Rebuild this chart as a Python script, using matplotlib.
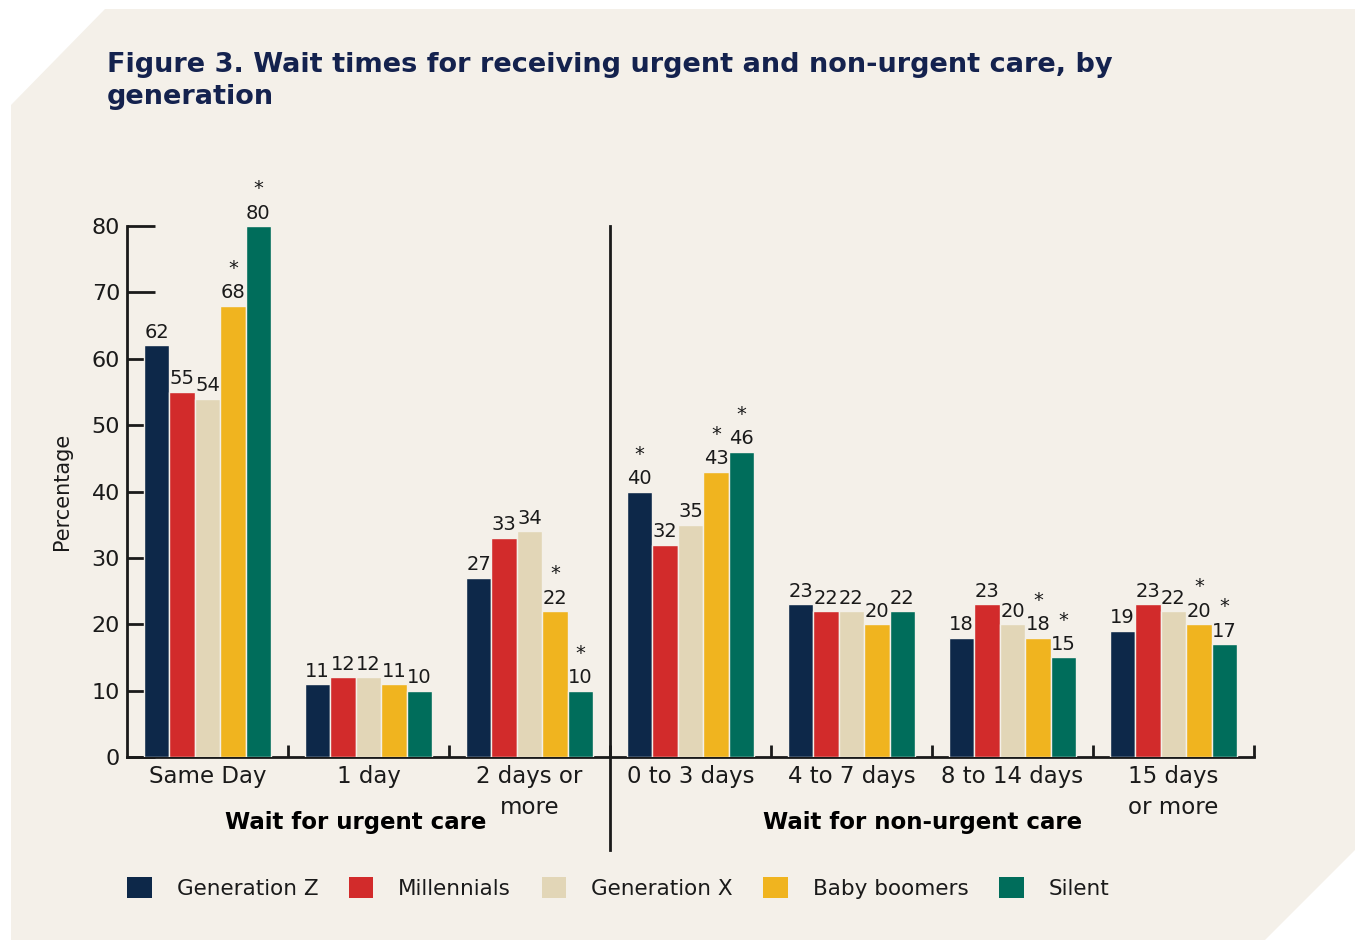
import matplotlib
matplotlib.use("Agg")
import matplotlib.pyplot as plt
from matplotlib.patches import Polygon, Patch
import numpy as np

# data
categories = ["Same Day", "1 day", "2 days or\nmore", "0 to 3 days",
              "4 to 7 days", "8 to 14 days", "15 days\nor more"]
series = ["Generation Z", "Millennials", "Generation X", "Baby boomers", "Silent"]
gen_z = [62, 11, 27, 40, 23, 18, 19]
millennials = [55, 12, 33, 32, 22, 23, 23]
gen_x = [54, 12, 34, 35, 22, 20, 22]
boomers = [68, 11, 22, 43, 20, 18, 20]
silent = [80, 10, 10, 46, 22, 15, 17]
# significance markers (*)
star_gen_z = [0, 0, 0, 1, 0, 0, 0]
star_millennials = [0, 0, 0, 0, 0, 0, 0]
star_gen_x = [0, 0, 0, 0, 0, 0, 0]
star_boomers = [1, 0, 1, 1, 0, 1, 1]
star_silent = [1, 0, 1, 1, 0, 1, 1]
yticks = [0, 10, 20, 30, 40, 50, 60, 70, 80]

values = [gen_z, millennials, gen_x, boomers, silent]
stars = [star_gen_z, star_millennials, star_gen_x, star_boomers, star_silent]
colors = ["#0d2849", "#d22b2b", "#e2d6b7", "#f0b41f", "#006d5b"]
bg = "#f4f0e9"
navy = "#14224e"
txt = "#1a1a1a"

plt.rcParams['font.family'] = ['DejaVu Sans']

fig = plt.figure(figsize=(13.59, 9.40), dpi=100, facecolor="white")
W, H = 1359.0, 940.0
pts = [(11, 105), (105, 9), (1355, 9), (1355, 850), (1265, 940), (11, 940)]
fig.patches.append(Polygon([(x / W, 1 - y / H) for x, y in pts], closed=True,
                           transform=fig.transFigure, facecolor=bg, edgecolor="none", zorder=-5))

fig.text(107 / W, 1 - 81 / H, "Figure 3. Wait times for receiving urgent and non-urgent care, by\ngeneration",
         fontsize=19.5, fontweight="bold", color=navy, ha="left", va="center", linespacing=1.3)

ax = fig.add_axes([127 / W, 1 - 757 / H, (1254 - 127) / W, (757 - 226) / H])
ax.set_facecolor("none")
ax.set_zorder(2)

x = np.arange(len(categories))
bw = 0.158
for i, (vals, st) in enumerate(zip(values, stars)):
    pos = x + (i - 2) * bw
    bars = ax.bar(pos, vals, width=bw, color=colors[i], edgecolor=bg, linewidth=1.0,
                  label=series[i], zorder=3)
    for b, v, s in zip(bars, vals, st):
        cx = b.get_x() + b.get_width() / 2
        ax.annotate(str(v), (cx, v), xytext=(0, 2.5), textcoords="offset points",
                    ha="center", va="bottom", fontsize=14, color=txt)
        if s:
            ax.annotate("*", (cx, v), xytext=(0, 20), textcoords="offset points",
                        ha="center", va="bottom", fontsize=14, color=txt)

ax.set_xlim(-0.5, 6.5)
ax.set_ylim(0, 80)
for sp in ["top", "right"]:
    ax.spines[sp].set_visible(False)
for sp in ["left", "bottom"]:
    ax.spines[sp].set_linewidth(2)
    ax.spines[sp].set_color(txt)

ax.set_yticks(yticks)
ax.set_yticklabels([str(t) for t in yticks], fontsize=16, color=txt)
ax.tick_params(axis="y", direction="in", length=20, width=2, pad=5, colors=txt, labelcolor=txt)

ax.set_xticks(x)
ax.set_xticklabels(categories, fontsize=16.5, color=txt, linespacing=1.4)
ax.set_xticks(np.arange(0.5, 7, 1), minor=True)
ax.tick_params(axis="x", which="major", length=0, pad=6)
ax.tick_params(axis="x", which="minor", direction="in", length=9, width=2, color=txt)

ax.set_ylabel("Percentage", fontsize=15, color=txt)
ax.yaxis.set_label_coords(-0.049, 0.5)

# divider between urgent and non-urgent groups
ax.plot([2.5, 2.5], [-14.0, 80], color=txt, lw=2, clip_on=False, zorder=4)

fig.text(356 / W, 1 - 823 / H, "Wait for urgent care", fontsize=16.5, fontweight="bold",
         color="black", ha="center", va="center")
fig.text(923 / W, 1 - 823 / H, "Wait for non-urgent care", fontsize=16.5, fontweight="bold",
         color="black", ha="center", va="center")

handles = [Patch(facecolor=c, edgecolor="none") for c in colors]
fig.legend(handles, series, loc="center left", bbox_to_anchor=(127 / W, 1 - 888 / H), ncol=5,
           frameon=False, fontsize=15.5, handlelength=1.15, handleheight=1.15,
           handletextpad=1.15, columnspacing=1.42, borderaxespad=0, borderpad=0, labelcolor=txt)

fig.savefig("out.png", dpi=100, facecolor="white")
